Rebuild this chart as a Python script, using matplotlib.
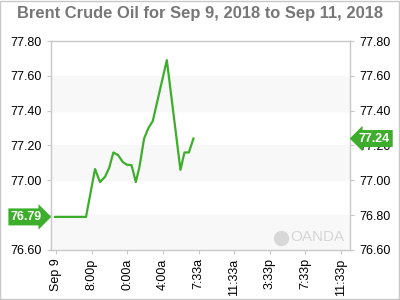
import matplotlib
matplotlib.use("Agg")
import matplotlib.pyplot as plt
from matplotlib.patches import Rectangle

plt.rcParams['font.family'] = ['Liberation Sans', 'DejaVu Sans']

# price series, x = hours after the first tick
hours = [-0.11, 3.37, 4.38, 4.94, 5.5, 5.96, 6.44, 6.97, 7.5, 7.94, 8.48,
         8.96, 9.36, 9.89, 10.37, 10.86, 12.44, 13.97, 14.42, 14.91, 15.43]
prices = [76.79, 76.79, 77.065, 76.99, 77.02, 77.07, 77.16, 77.145, 77.105, 77.09, 77.087,
          76.99, 77.075, 77.24, 77.30, 77.34, 77.69, 77.06, 77.16, 77.16, 77.24]

tick_hours = [0, 4, 8, 12, 16, 20, 24, 28, 32]
tick_labels = ['Sep 9', '8:00p', '0:00a', '4:00a', '7:33a', '11:33a', '3:33p', '7:33p', '11:33p']
y_ticks = [76.60, 76.80, 77.00, 77.20, 77.40, 77.60, 77.80]
band_ranges = [(76.6, 76.8), (77.0, 77.2), (77.4, 77.6)]

first_price = 76.79
last_price = 77.24

green = '#3dae2b'
frame = '#c8c8c8'

fig = plt.figure(figsize=(4, 3), dpi=100)
ax = fig.add_axes([0.1275, 0.1667, 0.7475, 0.6966])

for lo, hi in band_ranges:
    ax.axhspan(lo, hi, color='#f8f8f8', zorder=0)

ax.plot(hours, prices, color=green, lw=1.6, zorder=3)

ax.set_xlim(-0.56, 33.0)
ax.set_ylim(76.6, 77.8)
ax.set_xticks(tick_hours)
ax.set_xticklabels(tick_labels, rotation=90, fontsize=9)
ax.set_yticks(y_ticks)
ax.set_yticklabels(['%.2f' % v for v in y_ticks], fontsize=9)
ax.tick_params(axis='y', which='both', left=True, right=True, labelleft=True, labelright=True,
               length=3, color=frame, pad=4)
ax.tick_params(axis='x', length=3, color=frame, pad=3)
for s in ax.spines.values():
    s.set_color(frame)
    s.set_linewidth(1)

# price markers
ax.text(-0.03, first_price, '%.2f' % first_price, transform=ax.get_yaxis_transform(),
        ha='right', va='center', color='white', fontsize=9, fontweight='bold', zorder=5,
        bbox=dict(boxstyle='rarrow,pad=0.2', fc=green, ec='none'))
ax.text(1.03, last_price, '%.2f' % last_price, transform=ax.get_yaxis_transform(),
        ha='left', va='center', color='white', fontsize=9, fontweight='bold', zorder=5,
        bbox=dict(boxstyle='larrow,pad=0.2', fc=green, ec='none'))

# watermark
ax.plot([0.769], [0.057], marker='o', ms=10, color='#d8d8d8', transform=ax.transAxes,
        clip_on=False, zorder=1)
ax.text(0.98, 0.03, 'OANDA', transform=ax.transAxes, ha='right', va='bottom',
        color='#d6d6d6', fontsize=11, zorder=1)

fig.text(0.5, 0.955, 'Brent Crude Oil for Sep 9, 2018 to Sep 11, 2018', ha='center', va='center',
         fontsize=11.9, fontweight='bold', color='#777777')

fig.patches.append(Rectangle((0.001, 0.002), 0.997, 0.996, transform=fig.transFigure,
                             fill=False, ec=frame, lw=1))

fig.savefig('out.png', dpi=100)
